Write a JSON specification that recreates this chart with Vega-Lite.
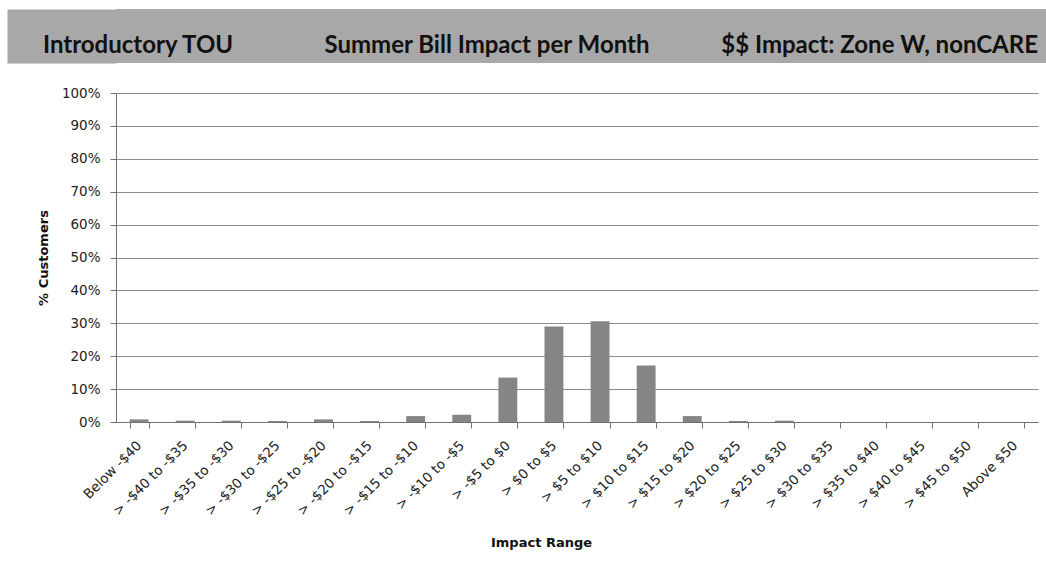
{
  "$schema": "https://vega.github.io/schema/vega-lite/v6.json",
  "background": "white",
  "padding": {"left": 7, "top": 9, "right": 0, "bottom": 0},
  "spacing": 23,
  "config": {"view": {"stroke": null}, "font": "DejaVu Sans"},
  "vconcat": [
    {
      "width": 930,
      "height": 54,
      "view": {"fill": "#a8a8a8", "stroke": null},
      "data": {
        "values": [
          {"heading": "Introductory TOU"},
          {"heading": "Summer Bill Impact per Month"},
          {"heading": "$$ Impact: Zone W, nonCARE"}
        ]
      },
      "encoding": {
        "x": {
          "field": "heading",
          "type": "nominal",
          "sort": null,
          "scale": {"type": "point", "padding": 0},
          "axis": null
        },
        "y": {
          "datum": 0.815,
          "type": "quantitative",
          "scale": {"domain": [1, 0]},
          "axis": {
            "orient": "left",
            "offset": 54.5,
            "domainWidth": 109,
            "domainColor": "#a8a8a8",
            "domainCap": "butt",
            "labels": false,
            "ticks": false,
            "grid": false,
            "title": null
          }
        },
        "text": {"field": "heading"}
      },
      "layer": [
        {
          "transform": [{"filter": "datum.heading === 'Introductory TOU'"}],
          "mark": {"type": "text", "font": "Lato", "fontWeight": "bold", "fontSize": 24, "color": "#111111", "baseline": "alphabetic", "align": "left", "dx": -73}
        },
        {
          "transform": [{"filter": "datum.heading === 'Summer Bill Impact per Month'"}],
          "mark": {"type": "text", "font": "Lato", "fontWeight": "bold", "fontSize": 24, "color": "#111111", "baseline": "alphabetic", "align": "center", "dx": -94}
        },
        {
          "transform": [{"filter": "datum.heading === '$$ Impact: Zone W, nonCARE'"}],
          "mark": {"type": "text", "font": "Lato", "fontWeight": "bold", "fontSize": 24, "color": "#111111", "baseline": "alphabetic", "align": "right", "dx": -8}
        }
      ]
    },
    {
      "width": 922,
      "height": 329,
      "data": {
        "values": [
          {"range": "Below -$40", "share": 0.008},
          {"range": "> -$40 to -$35", "share": 0.004},
          {"range": "> -$35 to -$30", "share": 0.004},
          {"range": "> -$30 to -$25", "share": 0.003},
          {"range": "> -$25 to -$20", "share": 0.008},
          {"range": "> -$20 to -$15", "share": 0.003},
          {"range": "> -$15 to -$10", "share": 0.018},
          {"range": "> -$10 to -$5", "share": 0.022},
          {"range": "> -$5 to $0", "share": 0.135},
          {"range": "> $0 to $5", "share": 0.29},
          {"range": "> $5 to $10", "share": 0.306},
          {"range": "> $10 to $15", "share": 0.172},
          {"range": "> $15 to $20", "share": 0.018},
          {"range": "> $20 to $25", "share": 0.003},
          {"range": "> $25 to $30", "share": 0.004},
          {"range": "> $30 to $35", "share": 0},
          {"range": "> $35 to $40", "share": 0},
          {"range": "> $40 to $45", "share": 0},
          {"range": "> $45 to $50", "share": 0},
          {"range": "Above $50", "share": 0}
        ]
      },
      "layer": [
        {
          "mark": {"type": "bar", "color": "#858585"},
          "encoding": {
            "x": {
              "field": "range",
              "type": "nominal",
              "sort": null,
              "scale": {"paddingInner": 0.59, "paddingOuter": 0.295},
              "axis": {
                "title": "Impact Range",
                "titleFontSize": 13,
                "titleFontWeight": "bold",
                "titleColor": "#111111",
                "titlePadding": 19,
                "titleX": 425,
                "labelAngle": -45,
                "labelAlign": "right",
                "labelBaseline": "middle",
                "labelFontSize": 13.5,
                "labelColor": "#222222",
                "labelPadding": 15,
                "tickBand": "extent",
                "tickSize": 6,
                "tickColor": "#707070",
                "domainColor": "#707070"
              }
            },
            "y": {
              "field": "share",
              "type": "quantitative",
              "scale": {"domain": [0, 1]},
              "axis": {
                "title": "% Customers",
                "titleFontSize": 13,
                "titleFontWeight": "bold",
                "titleColor": "#111111",
                "titlePadding": 11,
                "values": [0, 0.1, 0.2, 0.3, 0.4, 0.5, 0.6, 0.7, 0.8, 0.9, 1],
                "format": ".0%",
                "labelFontSize": 13.5,
                "labelColor": "#222222",
                "labelPadding": 10,
                "tickSize": 6,
                "tickColor": "#707070",
                "domainColor": "#707070",
                "grid": true,
                "gridColor": "#8c8c8c",
                "gridWidth": 1
              }
            }
          }
        },
        {
          "mark": {"type": "rule", "opacity": 0},
          "encoding": {
            "y": {
              "field": "share",
              "type": "quantitative",
              "axis": {
                "orient": "left",
                "offset": 109,
                "labels": false,
                "ticks": false,
                "grid": false,
                "title": null,
                "domainColor": "#ffffff"
              }
            }
          }
        }
      ],
      "resolve": {"axis": {"y": "independent"}}
    }
  ]
}
